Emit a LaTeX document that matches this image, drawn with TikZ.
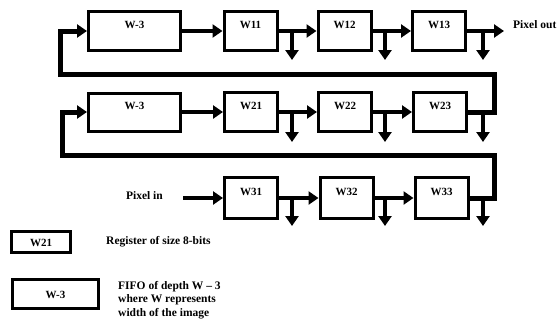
\documentclass[tikz,border=0pt]{standalone}
\usepackage{fontspec}
\setmainfont{Liberation Serif}
\usetikzlibrary{arrows.meta,positioning,calc}
\tikzset{
    regbox/.style={
        rectangle,                % registro: rectángulo simple
        draw=black,               % borde negro
        line width=3pt,           % borde grueso como en el original
        fill=white,
        minimum width=53pt,       % ancho de un registro de 8 bits
        minimum height=39pt,
        inner sep=0pt,
        text height=8pt,          % con text depth el texto sube hacia arriba
        text depth=13pt,
        font=\bfseries\fontsize{11}{13}\selectfont
    },
    fifobox/.style={
        regbox,
        minimum width=92pt        % la FIFO es bastante más ancha
    },
    keybox/.style={
        regbox,
        text depth=0pt            % en la leyenda el texto va centrado
    },
    flow/.style={
        line width=4pt,           % conexiones gruesas
        -{Triangle[length=10pt,width=13pt]}
    },
    loopflow/.style={
        flow,
        line width=5pt            % el retorno entre filas es aún más grueso
    },
    lbl/.style={
        inner sep=0pt,
        font=\bfseries\fontsize{11.5}{13.5}\selectfont
    }
}
\begin{document}
\begin{tikzpicture}[x=1pt,y=-1pt]
\useasboundingbox (0,0) rectangle (559,324);

\node[fifobox] (fifo1) at (134.5,31) {W-3};
\node[regbox] (w11) at (250.5,31) {W11};
\node[regbox] (w12) at (344.5,31) {W12};
\node[regbox] (w13) at (439,31) {W13};

\node[fifobox, minimum height=38pt] (fifo2) at (134.5,112) {W-3};
\node[regbox] (w21) at (251,112) {W21};
\node[regbox] (w22) at (345,112) {W22};
\node[regbox] (w23) at (440,112) {W23};

\node[regbox, minimum height=41pt] (w31) at (251,198) {W31};
\node[regbox, minimum height=41pt] (w32) at (346.5,198) {W32};
\node[regbox, minimum height=41pt] (w33) at (441.5,198) {W33};

\coordinate (outend) at (504,31);
\coordinate (inbeg) at (183,198);
\coordinate (loopA) at (494,74);
\coordinate (loopB) at (60,74);
\coordinate (loopC) at (494,155);
\coordinate (loopD) at (62,155);

\node[lbl, right=9pt of outend, yshift=6pt] (pouttxt) {Pixel out};
\node[lbl, left=20pt of inbeg, yshift=2pt] (pintxt) {Pixel in};

\draw[flow] (fifo1) -- (w11);
\draw[flow] (w11) -- (w12);
\draw[flow] (w12) -- (w13);
\draw[flow] (w13) -- (outend);

\draw[flow] (fifo2) -- (w21);
\draw[flow] (w21) -- (w22);
\draw[flow] (w22) -- (w23);

\draw[flow] (inbeg) -- (w31);
\draw[flow] (w31) -- (w32);
\draw[flow] (w32) -- (w33);

\draw[loopflow] (w23.east) -| (loopA) -- (loopB) |- (fifo1.west);
\draw[loopflow] (w33.east) -| (loopC) -- (loopD) |- (fifo2.west);

\foreach \r/\yl/\yt in {1/31/60, 2/112/142, 3/198/226}
  \foreach \c/\x in {1/292, 2/385, 3/483} {
    \coordinate (j\r\c) at (\x,\yl);
    \coordinate (d\r\c) at (\x,\yt);
    \draw[flow] (j\r\c) -- (d\r\c);
  }

\node[keybox, minimum width=59pt, minimum height=21pt] (keyreg) at (41,242) {W21};
\node[keybox, minimum width=86pt, minimum height=29pt] (keyfifo) at (55.5,294) {W-3};
\node[lbl, right=34pt of keyreg] (regtxt) {Register of size 8-bits};
\node[lbl, right=18pt of keyfifo, yshift=-6pt, align=left] (fifotxt)
      {FIFO of depth W – 3\\where W represents\\width of the image};
\end{tikzpicture}
\end{document}
